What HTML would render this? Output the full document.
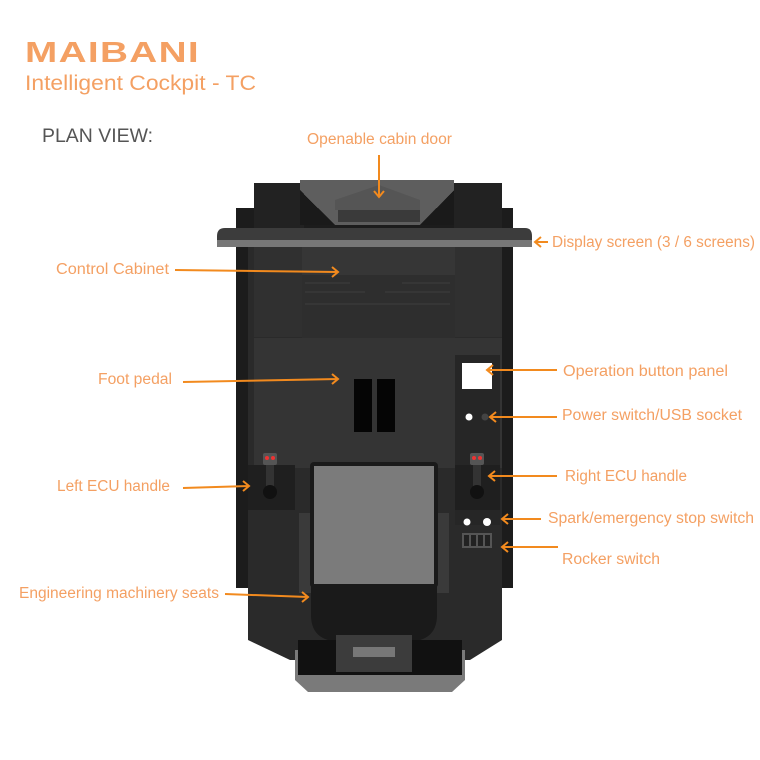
<!DOCTYPE html>
<html><head><meta charset="utf-8"><style>
html,body{margin:0;padding:0;background:#fff;}
svg{display:block;}
text{font-family:"Liberation Sans",sans-serif;}
.l{fill:#f4a063;font-size:15.5px;}
.a{stroke:#f28a1e;stroke-width:2;fill:none;}
</style></head><body>
<svg width="760" height="760" viewBox="0 0 760 760" xmlns="http://www.w3.org/2000/svg">
<text x="25" y="62" style="font-size:29px;font-weight:bold;fill:#f4a063;letter-spacing:1px" textLength="175" lengthAdjust="spacingAndGlyphs">MAIBANI</text>
<text x="25" y="90" style="font-size:21px;fill:#f4a063" textLength="231" lengthAdjust="spacingAndGlyphs">Intelligent Cockpit  - TC</text>
<text x="42" y="142" style="font-size:19px;fill:#555" textLength="111" lengthAdjust="spacingAndGlyphs">PLAN VIEW:</text>

<!-- body -->
<rect x="236" y="208" width="277" height="380" fill="#1c1c1c"/>
<path d="M248 228 H502 V640 L470 660 H290 L248 640 Z" fill="#2a2a2a"/>
<path d="M295 650 H465 V680 L452 692 H308 L295 680 Z" fill="#7a7a7a"/>
<path d="M298 640 H462 V675 H298 Z" fill="#111"/>
<!-- top -->
<rect x="254" y="183" width="50" height="45" fill="#222"/>
<rect x="454" y="183" width="48" height="45" fill="#222"/>
<path d="M300 180 H454 V190 L420 225 H335 L300 190 Z" fill="#5e5e5e"/>
<path d="M300 190 L335 225 H300 Z" fill="#1a1a1a"/>
<path d="M454 190 L420 225 H454 Z" fill="#1a1a1a"/>
<path d="M335 200 L379 185 L420 200 V210 H335 Z" fill="#555"/>
<rect x="338" y="210" width="82" height="12" fill="#3a3a3a"/>
<path d="M225 228 H525 Q532 228 532 236 V247 H217 V236 Q217 228 225 228 Z" fill="#3c3c3c"/>
<rect x="217" y="240" width="315" height="7" fill="#777"/>
<!-- cabinet -->
<rect x="254" y="247" width="48" height="90" fill="#303030"/>
<rect x="455" y="247" width="47" height="90" fill="#303030"/>
<rect x="302" y="247" width="153" height="43" fill="#363636"/>
<rect x="302" y="275" width="153" height="63" fill="#2e2e2e"/>
<g stroke="#3e3e3e" stroke-width="1"><line x1="305" y1="283" x2="350" y2="283"/><line x1="402" y1="283" x2="450" y2="283"/><line x1="305" y1="292" x2="365" y2="292"/><line x1="385" y1="292" x2="450" y2="292"/><line x1="305" y1="304" x2="450" y2="304"/></g>
<rect x="254" y="338" width="248" height="130" fill="#343434"/>
<!-- pedals -->
<rect x="354" y="379" width="18" height="53" fill="#050505"/>
<rect x="377" y="379" width="18" height="53" fill="#050505"/>
<!-- right panel -->
<rect x="455" y="355" width="45" height="170" fill="#262626"/>
<rect x="462" y="363" width="30" height="26" fill="#fff"/>
<circle cx="469" cy="417" r="3.5" fill="#fff"/>
<circle cx="485" cy="417" r="3.5" fill="#444"/>
<!-- ECU panels -->
<rect x="248" y="465" width="47" height="45" fill="#1f1f1f"/>
<rect x="455" y="465" width="45" height="45" fill="#1f1f1f"/>
<rect x="263" y="453" width="14" height="12" rx="2" fill="#555"/><circle cx="267" cy="458" r="2" fill="#e33"/><circle cx="273" cy="458" r="2" fill="#e33"/>
<rect x="266" y="465" width="8" height="25" fill="#333"/><circle cx="270" cy="492" r="7" fill="#111"/>
<rect x="470" y="453" width="14" height="12" rx="2" fill="#555"/><circle cx="474" cy="458" r="2" fill="#e33"/><circle cx="480" cy="458" r="2" fill="#e33"/>
<rect x="473" y="465" width="8" height="25" fill="#333"/><circle cx="477" cy="492" r="7" fill="#111"/>
<circle cx="467" cy="522" r="3.5" fill="#fff"/><circle cx="487" cy="522" r="4" fill="#fff"/>
<rect x="462" y="533" width="30" height="15" fill="#555"/>
<g fill="#222"><rect x="464" y="535" width="5" height="11"/><rect x="471" y="535" width="5" height="11"/><rect x="478" y="535" width="5" height="11"/><rect x="485" y="535" width="5" height="11"/></g>
<!-- seat -->
<rect x="299" y="513" width="12" height="80" fill="#3a3a3a"/>
<rect x="437" y="513" width="12" height="80" fill="#3a3a3a"/>
<rect x="310" y="462" width="128" height="126" rx="4" fill="#1a1a1a"/>
<rect x="314" y="466" width="120" height="118" fill="#7b7b7b"/>
<path d="M311 585 H437 V615 Q437 635 420 640 H328 Q311 635 311 615 Z" fill="#1a1a1a"/>
<path d="M336 635 H412 V672 H336 Z" fill="#3c3c3c"/>
<rect x="353" y="647" width="42" height="10" fill="#777"/>

<!-- labels -->
<text class="l" x="307" y="144" textLength="145" lengthAdjust="spacingAndGlyphs">Openable cabin door</text>
<text class="l" x="552" y="247" textLength="203" lengthAdjust="spacingAndGlyphs">Display screen (3 / 6 screens)</text>
<text class="l" x="56" y="274" textLength="113" lengthAdjust="spacingAndGlyphs">Control Cabinet</text>
<text class="l" x="98" y="384" textLength="74" lengthAdjust="spacingAndGlyphs">Foot pedal</text>
<text class="l" x="563" y="376" textLength="165" lengthAdjust="spacingAndGlyphs">Operation button panel</text>
<text class="l" x="562" y="420" textLength="180" lengthAdjust="spacingAndGlyphs">Power switch/USB socket</text>
<text class="l" x="565" y="481" textLength="122" lengthAdjust="spacingAndGlyphs">Right ECU handle</text>
<text class="l" x="57" y="491" textLength="113" lengthAdjust="spacingAndGlyphs">Left ECU handle</text>
<text class="l" x="548" y="523" textLength="206" lengthAdjust="spacingAndGlyphs">Spark/emergency stop switch</text>
<text class="l" x="562" y="564" textLength="98" lengthAdjust="spacingAndGlyphs">Rocker switch</text>
<text class="l" x="19" y="598" textLength="200" lengthAdjust="spacingAndGlyphs">Engineering machinery seats</text>

<!-- arrows -->
<g class="a">
<path d="M379 155 V197 M374 191 L379 197 L384 191"/>
<path d="M548 242 H535 M541 237 L535 242 L541 247"/>
<path d="M175 270 L338 272 M332 267 L338 272 L332 277"/>
<path d="M183 382 L338 379 M332 374 L338 379 L332 384"/>
<path d="M557 370 H487 M493 365 L487 370 L493 375"/>
<path d="M557 417 H490 M496 412 L490 417 L496 422"/>
<path d="M557 476 H489 M495 471 L489 476 L495 481"/>
<path d="M541 519 H502 M508 514 L502 519 L508 524"/>
<path d="M558 547 H502 M508 542 L502 547 L508 552"/>
<path d="M183 488 L249 486 M243 481 L249 486 L243 491"/>
<path d="M225 594 L308 597 M302 592 L308 597 L302 602"/>
</g>
</svg>
</body></html>
